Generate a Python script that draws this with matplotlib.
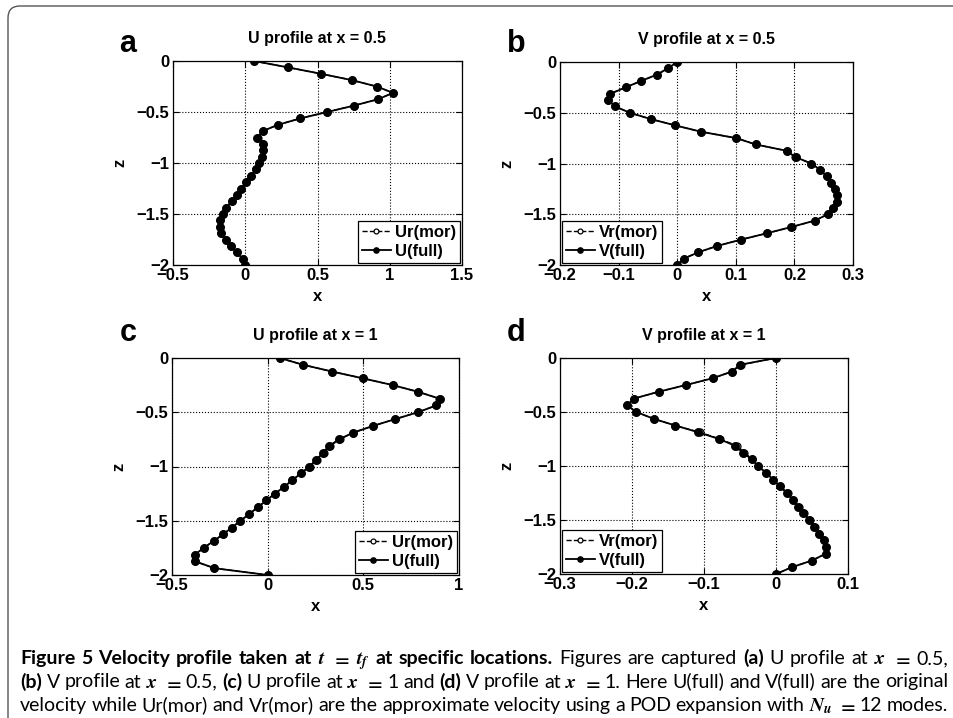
import matplotlib
matplotlib.use("Agg")
import matplotlib.pyplot as plt
from matplotlib import font_manager
from matplotlib.patches import FancyBboxPatch
from matplotlib.transforms import IdentityTransform
from matplotlib.ticker import FixedLocator, FuncFormatter

# ---------------------------------------------------------------- data
z = [0.0, -0.0625, -0.125, -0.1875, -0.25, -0.3125, -0.375, -0.4375, -0.5,
     -0.5625, -0.625, -0.6875, -0.75, -0.8125, -0.875, -0.9375, -1.0,
     -1.0625, -1.125, -1.1875, -1.25, -1.3125, -1.375, -1.4375, -1.5,
     -1.5625, -1.625, -1.6875, -1.75, -1.8125, -1.875, -1.9375, -2.0]

# (a) U at x = 0.5
u_full_a = [0.060, 0.296, 0.523, 0.738, 0.910, 1.023, 0.919, 0.752, 0.567,
            0.382, 0.227, 0.120, 0.083, 0.120, 0.123, 0.113, 0.095, 0.072,
            0.039, 0.007, -0.028, -0.060, -0.095, -0.130, -0.157, -0.178,
            -0.176, -0.169, -0.132, -0.100, -0.060, -0.019, 0.000]
u_mor_a = [0.060, 0.296, 0.523, 0.738, 0.910, 1.021, 0.919, 0.752, 0.567,
           0.382, 0.227, 0.120, 0.085, 0.120, 0.124, 0.113, 0.095, 0.072,
           0.039, 0.007, -0.028, -0.060, -0.095, -0.130, -0.157, -0.176,
           -0.176, -0.169, -0.132, -0.100, -0.060, -0.019, 0.000]

# (b) V at x = 0.5
v_full_b = [0.000, -0.016, -0.035, -0.062, -0.088, -0.114, -0.118, -0.106,
            -0.081, -0.045, -0.003, 0.041, 0.101, 0.134, 0.187, 0.202, 0.229,
            0.244, 0.255, 0.263, 0.269, 0.272, 0.272, 0.266, 0.257, 0.235,
            0.195, 0.153, 0.109, 0.068, 0.036, 0.011, 0.000]
v_mor_b = [0.000, -0.016, -0.034, -0.062, -0.088, -0.114, -0.118, -0.106,
           -0.081, -0.045, -0.003, 0.041, 0.101, 0.134, 0.187, 0.201, 0.229,
           0.244, 0.255, 0.263, 0.269, 0.272, 0.272, 0.266, 0.257, 0.235,
           0.196, 0.153, 0.109, 0.068, 0.036, 0.011, 0.000]

# (c) U at x = 1
u_full_c = [0.063, 0.185, 0.337, 0.498, 0.654, 0.788, 0.899, 0.881, 0.785,
            0.668, 0.552, 0.448, 0.372, 0.320, 0.288, 0.255, 0.217, 0.175,
            0.129, 0.086, 0.038, -0.007, -0.051, -0.096, -0.142, -0.187,
            -0.233, -0.283, -0.334, -0.381, -0.378, -0.278, 0.000]
u_mor_c = [0.063, 0.185, 0.337, 0.498, 0.654, 0.788, 0.897, 0.881, 0.785,
           0.668, 0.552, 0.448, 0.376, 0.326, 0.292, 0.257, 0.219, 0.175,
           0.129, 0.086, 0.038, -0.007, -0.051, -0.096, -0.142, -0.187,
           -0.233, -0.283, -0.334, -0.380, -0.378, -0.278, 0.000]

# (d) V at x = 1
v_full_d = [0.000, -0.050, -0.061, -0.088, -0.125, -0.163, -0.197, -0.207,
            -0.194, -0.170, -0.140, -0.108, -0.079, -0.057, -0.046, -0.034,
            -0.025, -0.014, -0.004, 0.005, 0.015, 0.023, 0.031, 0.038, 0.046,
            0.053, 0.060, 0.066, 0.069, 0.069, 0.050, 0.022, 0.000]
v_mor_d = [0.000, -0.048, -0.061, -0.088, -0.125, -0.163, -0.197, -0.207,
           -0.194, -0.170, -0.140, -0.106, -0.078, -0.054, -0.044, -0.033,
           -0.025, -0.014, -0.004, 0.006, 0.016, 0.024, 0.032, 0.039, 0.047,
           0.054, 0.060, 0.066, 0.069, 0.069, 0.050, 0.022, 0.000]

panel_letters = ["a", "b", "c", "d"]
titles = ["U profile at x = 0.5", "V profile at x = 0.5",
          "U profile at x = 1", "V profile at x = 1"]
mor_labels = ["Ur(mor)", "Vr(mor)", "Ur(mor)", "Vr(mor)"]
full_labels = ["U(full)", "V(full)", "U(full)", "V(full)"]
x_ticks = [[-0.5, 0, 0.5, 1, 1.5],
           [-0.2, -0.1, 0, 0.1, 0.2, 0.3],
           [-0.5, 0, 0.5, 1],
           [-0.3, -0.2, -0.1, 0, 0.1]]
z_ticks = [0, -0.5, -1, -1.5, -2]
legend_loc = ["lower right", "lower left", "lower right", "lower left"]

caption_lines = [
    "*Figure 5 Velocity profile taken at $t$ $=$ $t_f$ at specific locations.* "
    "Figures are captured *(a)* U profile at $x$ $=$ 0.5,",
    "*(b)* V profile at $x$ $=$ 0.5, *(c)* U profile at $x$ $=$ 1 and *(d)* "
    "V profile at $x$ $=$ 1. Here U(full) and V(full) are the original",
    "velocity while Ur(mor) and Vr(mor) are the approximate velocity using a "
    "POD expansion with $N_u$ $=$ 12 modes.",
]

# ---------------------------------------------------------------- style
plt.rcParams["font.family"] = ["Liberation Sans", "DejaVu Sans"]
plt.rcParams["font.weight"] = "bold"
plt.rcParams["mathtext.fontset"] = "stix"
plt.rcParams["axes.unicode_minus"] = True

W, H = 954, 718
fig = plt.figure(figsize=(W / 100, H / 100), dpi=100)


def px_axes(left, top, right, bottom):
    return [left / W, 1 - bottom / H, (right - left) / W, (bottom - top) / H]


axes_boxes = [px_axes(173, 61, 462, 265), px_axes(560, 62, 853, 265),
              px_axes(172, 358, 459, 575), px_axes(560, 358, 848, 574)]
letter_pos = [(128, 52), (516, 52), (128, 341), (516, 341)]

profiles = [(u_mor_a, u_full_a), (v_mor_b, v_full_b),
            (u_mor_c, u_full_c), (v_mor_d, v_full_d)]


def tick_fmt(v, pos):
    s = "%g" % v
    if s in ("-0", "0.0"):
        s = "0"
    return s.replace("-", "\u2212")


for i in range(4):
    ax = fig.add_axes(axes_boxes[i])
    mor, full = profiles[i]
    ax.plot(mor, z, ls="--", lw=1.0, color="black", marker="o", ms=5,
            mfc="white", mec="black", mew=0.9, label=mor_labels[i], zorder=3)
    ax.plot(full, z, ls="-", lw=1.3, color="black", marker="o", ms=5.4,
            mfc="black", mec="black", label=full_labels[i], zorder=4)
    ax.set_xlim(x_ticks[i][0], x_ticks[i][-1])
    ax.set_ylim(-2, 0)
    ax.xaxis.set_major_locator(FixedLocator(x_ticks[i]))
    ax.yaxis.set_major_locator(FixedLocator(z_ticks))
    ax.xaxis.set_major_formatter(FuncFormatter(tick_fmt))
    ax.yaxis.set_major_formatter(FuncFormatter(tick_fmt))
    ax.tick_params(direction="in", length=4, width=0.8, top=True, right=True,
                   labelsize=12, pad=2.5)
    for lab in ax.get_xticklabels() + ax.get_yticklabels():
        lab.set_fontweight("bold")
    ax.grid(True, ls=":", lw=0.8, color="black")
    ax.set_axisbelow(True)
    for sp in ax.spines.values():
        sp.set_linewidth(0.9)
    ax.set_title(titles[i], fontsize=11.5, fontweight="bold", pad=13)
    ax.set_xlabel("x", fontsize=12, fontweight="bold", labelpad=4)
    ax.set_ylabel("z", fontsize=12, fontweight="bold", labelpad=7)
    leg = ax.legend(loc=legend_loc[i], fontsize=12, frameon=True,
                    fancybox=False, edgecolor="black", framealpha=1,
                    borderaxespad=0.12, handlelength=1.7, handletextpad=0.25,
                    labelspacing=0.25, borderpad=0.25, markerscale=0.7)
    leg.get_frame().set_linewidth(0.9)
    for t in leg.get_texts():
        t.set_fontweight("bold")
    lx, ly = letter_pos[i]
    fig.text(lx / W, 1 - ly / H, panel_letters[i], fontsize=22,
             fontweight="bold", ha="center", va="baseline")

# ---------------------------------------------------------------- frame
frame = FancyBboxPatch((8, -40), 1000, H - 6 + 40,
                       boxstyle="round,pad=0,rounding_size=12",
                       transform=IdentityTransform(), fill=False,
                       ec="#555555", lw=1.0, clip_on=False)
fig.add_artist(frame)

# ---------------------------------------------------------------- caption
names = {f.name for f in font_manager.fontManager.ttflist}
cap_font = "Liberation Sans Narrow" if "Liberation Sans Narrow" in names else "Lato"
base_size = 12.0

renderer = fig.canvas.get_renderer()
baselines = [664, 687.5, 711]
x_left, x_right = 20, 948


def tokenize(line):
    toks = []
    for k, seg in enumerate(line.split("*")):
        for w in seg.split():
            toks.append((w, k % 2 == 1))
    return toks


def measure(tokens, size):
    ws = []
    for w, bold in tokens:
        t = fig.text(0, 0, w, fontsize=size, family=[cap_font, "DejaVu Sans"],
                     fontweight="bold" if bold else "normal")
        ws.append(t.get_window_extent(renderer).width)
        t.remove()
    return ws


# choose a caption size so that the fullest line fits with ordinary spacing
em_px = base_size * 100 / 72
scale = 10.0
for line in caption_lines:
    toks = tokenize(line)
    ws = measure(toks, base_size)
    need = sum(ws) + (len(toks) - 1) * 0.24 * em_px
    scale = min(scale, (x_right - x_left) / need)
cap_size = base_size * scale

for line, base in zip(caption_lines, baselines):
    tokens = tokenize(line)
    artists = []
    widths = []
    for w, bold in tokens:
        t = fig.text(0, 1 - base / H, w, fontsize=cap_size,
                     family=[cap_font, "DejaVu Sans"],
                     fontweight="bold" if bold else "normal",
                     ha="left", va="baseline")
        artists.append(t)
        widths.append(t.get_window_extent(renderer).width)
    gap = (x_right - x_left - sum(widths)) / (len(tokens) - 1)
    x = x_left
    for t, wdt in zip(artists, widths):
        t.set_x(x / W)
        x += wdt + gap

fig.savefig("out.png", dpi=100, facecolor="white")
